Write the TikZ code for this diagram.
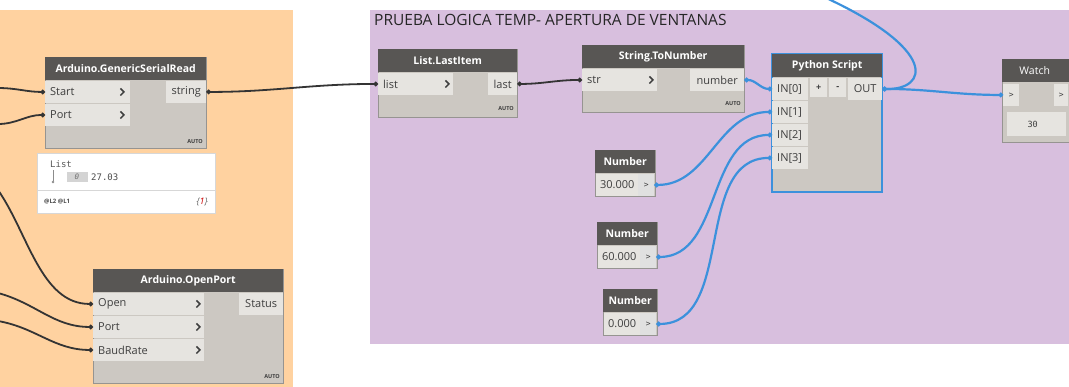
\documentclass[tikz,border=0pt]{standalone}
\usepackage{fontspec}
\setmainfont{Open Sans}
\newfontfamily\monofont{DejaVu Sans Mono}
\usetikzlibrary{arrows.meta}
\definecolor{orangegroup}{RGB}{255,210,160}
\definecolor{purplegroup}{RGB}{216,191,222}
\definecolor{headercolor}{RGB}{88,86,84}
\definecolor{bodycolor}{RGB}{204,200,194}
\definecolor{portcolor}{RGB}{230,228,224}
\definecolor{textcolor}{RGB}{62,62,62}
\definecolor{darkwire}{RGB}{52,52,52}
\definecolor{bluewire}{RGB}{60,145,220}
\definecolor{bordercolor}{RGB}{150,148,145}
\definecolor{previewborder}{RGB}{215,215,215}

\tikzset{
  nodebody/.style={draw=bordercolor,fill=bodycolor,line width=0.8pt},
  header/.style={anchor=north west,fill=headercolor,text=white,font=\bfseries\fontsize{10.5}{12}\selectfont,inner sep=0pt,minimum height=23pt},
  port/.style={anchor=north west,fill=portcolor,text=textcolor,font=\fontsize{11}{12}\selectfont,inner ysep=0pt,minimum height=21.5pt},
  inport/.style={port,inner xsep=5pt,text width=#1,align=left},
  outport/.style={port,inner xsep=3pt},
  autotag/.style={anchor=south east,text=textcolor,font=\bfseries\fontsize{5.5}{6}\selectfont,inner sep=0pt},
  chevron/.style={draw=textcolor,line width=1.5pt},
  grouptitle/.style={anchor=west,text=black!85,font=\fontsize{15.5}{17}\selectfont,inner sep=0pt},
  darkline/.style={draw=darkwire,line width=1.8pt},
  blueline/.style={draw=bluewire,line width=2.2pt},
  portdot/.style={{Circle[length=4.5pt]}-{Circle[length=4.5pt]}},
}

\begin{document}
\begin{tikzpicture}[x=1pt,y=-1pt]
  \clip (0,0) rectangle (1069,386);
  %groups
  \fill[orangegroup] (0,10) rectangle (293,390);
  \fill[purplegroup] (370,10) rectangle (1075,344);
  \node[grouptitle] (grp-title) at (374,20) {PRUEBA LOGICA TEMP- APERTURA DE VENTANAS};

  %Arduino.GenericSerialRead
  \filldraw[nodebody] (45,57) rectangle (206,148);
  \node[header,minimum width=161pt] (gsr-title) at (45,57) {Arduino.GenericSerialRead};
  \node[inport=75pt] (gsr-start) at (45,81) {Start};
  \node[inport=75pt] (gsr-port) at (45,104) {Port};
  \node[outport,minimum width=40pt] (gsr-string) at (166,81) {string};
  \node[autotag] (gsr-auto) at (203,144) {AUTO};
  \draw[chevron] (gsr-start.east) ++(-10,-3.5) -- ++(3.5,3.5) -- ++(-3.5,3.5);
  \draw[chevron] (gsr-port.east) ++(-10,-3.5) -- ++(3.5,3.5) -- ++(-3.5,3.5);

  %List preview
  \filldraw[draw=previewborder,fill=white] (37,153) rectangle (215,213);
  \draw[previewborder] (37,190) -- (215,190);
  \node[anchor=west,inner sep=0pt,text=black!65,font=\monofont\fontsize{9}{10}\selectfont] (lst-title) at (50,164) {List};
  \draw[black!45,line width=0.6pt] (53,170) -- (53,181);
  \fill[black!45] (53,182) circle (1.3);
  \node[fill=black!17,text=black!55,minimum width=21pt,minimum height=10pt,inner sep=0pt,font=\monofont\itshape\fontsize{7.5}{8}\selectfont] (lst-index) at (77,177) {0};
  \node[anchor=west,inner sep=0pt,text=black!70,font=\monofont\fontsize{9}{10}\selectfont] (lst-value) at (91,177) {27.03};
  \node[anchor=west,inner sep=0pt,text=black!70,font=\bfseries\fontsize{6}{7}\selectfont] (lst-levels) at (44,202) {@L2 @L1};
  \node[anchor=east,inner sep=0pt,text=black!60,font=\itshape\fontsize{9}{10}\selectfont] (lst-count) at (208,202) {\{\textcolor{red!80!black}{1}\}};

  %Arduino.OpenPort
  \filldraw[nodebody] (93,269) rectangle (283,383);
  \node[header,minimum width=190pt] (op-title) at (93,269) {Arduino.OpenPort};
  \node[inport=101pt] (op-open) at (93,293) {Open};
  \node[inport=101pt] (op-port) at (93,316) {Port};
  \node[inport=101pt] (op-baud) at (93,339) {BaudRate};
  \node[outport,minimum width=44pt] (op-status) at (239,293) {Status};
  \node[autotag] (op-auto) at (280,379) {AUTO};
  \draw[chevron] (op-open.east) ++(-8,-3.5) -- ++(3.5,3.5) -- ++(-3.5,3.5);
  \draw[chevron] (op-port.east) ++(-8,-3.5) -- ++(3.5,3.5) -- ++(-3.5,3.5);
  \draw[chevron] (op-baud.east) ++(-8,-3.5) -- ++(3.5,3.5) -- ++(-3.5,3.5);

  %List.LastItem
  \filldraw[nodebody] (378,49) rectangle (517,117);
  \node[header,minimum width=139pt] (li-title) at (378,49) {List.LastItem};
  \node[inport=65pt] (li-list) at (378,73) {list};
  \node[outport,minimum width=29pt] (li-last) at (488,73) {last};
  \node[autotag] (li-auto) at (514,111) {AUTO};
  \draw[chevron] (li-list.east) ++(-8,-3.5) -- ++(3.5,3.5) -- ++(-3.5,3.5);

  %String.ToNumber
  \filldraw[nodebody] (582,45) rectangle (744,112);
  \node[header,minimum width=162pt] (tn-title) at (582,45) {String.ToNumber};
  \node[inport=65pt] (tn-str) at (582,69) {str};
  \node[outport,minimum width=54pt] (tn-number) at (690,69) {number};
  \node[autotag] (tn-auto) at (741,106) {AUTO};
  \draw[chevron] (tn-str.east) ++(-8,-3.5) -- ++(3.5,3.5) -- ++(-3.5,3.5);

  %Python Script
  \filldraw[nodebody,draw=bluewire,line width=1.6pt] (772,54) rectangle (882,192);
  \node[header,minimum width=110pt] (py-title) at (772,54) {Python Script};
  \node[inport=26pt,inner xsep=5pt] (py-in0) at (772,78) {IN[0]};
  \node[inport=26pt,inner xsep=5pt] (py-in1) at (772,101) {IN[1]};
  \node[inport=26pt,inner xsep=5pt] (py-in2) at (772,124) {IN[2]};
  \node[inport=26pt,inner xsep=5pt] (py-in3) at (772,147) {IN[3]};
  \node[outport,minimum width=17pt,minimum height=19pt,font=\bfseries\fontsize{9}{10}\selectfont] (py-plus) at (810,78) {+};
  \node[outport,minimum width=17pt,minimum height=19pt,font=\bfseries\fontsize{9}{10}\selectfont] (py-minus) at (829,78) {-};
  \node[outport,minimum width=34pt] (py-out) at (848,78) {OUT};

  %Watch
  \filldraw[nodebody] (1002,59) rectangle (1075,142);
  \node[header,minimum width=73pt,font=\fontsize{10.5}{12}\selectfont] (w-title) at (1002,59) {\hspace*{-8pt}Watch};
  \node[outport,minimum width=16pt,font=\monofont\fontsize{8}{9}\selectfont] (w-in) at (1003,84) {>};
  \node[outport,minimum width=14pt,font=\monofont\fontsize{8}{9}\selectfont] (w-out) at (1054,84) {>};
  \node[outport,minimum width=59pt,minimum height=24pt,font=\monofont\fontsize{8.5}{9}\selectfont] (w-value) at (1007,112) {\hspace*{-8pt}30};

  %Numbers
  \filldraw[nodebody] (595,150) rectangle (655,196);
  \node[header,minimum width=60pt] (n1-title) at (595,150) {Number};
  \node[outport,minimum width=42pt] (n1-value) at (596,174) {30.000};
  \node[outport,minimum width=16pt,fill=black!12,font=\monofont\fontsize{8}{9}\selectfont] (n1-out) at (638,174) {>};
  \filldraw[nodebody] (597,222) rectangle (657,268);
  \node[header,minimum width=60pt] (n2-title) at (597,222) {Number};
  \node[outport,minimum width=42pt] (n2-value) at (598,246) {60.000};
  \node[outport,minimum width=16pt,fill=black!12,font=\monofont\fontsize{8}{9}\selectfont] (n2-out) at (640,246) {>};
  \filldraw[nodebody] (603,289) rectangle (657,335);
  \node[header,minimum width=54pt] (n3-title) at (603,289) {Number};
  \node[outport,minimum width=36pt] (n3-value) at (604,313) {0.000};
  \node[outport,minimum width=16pt,fill=black!12,font=\monofont\fontsize{8}{9}\selectfont] (n3-out) at (640,313) {>};

  %wires from outside
  \coordinate (src-start) at (-2,88);
  \coordinate (src-port) at (-2,124);
  \coordinate (src-open) at (-2,190);
  \coordinate (src-port2) at (-2,293);
  \coordinate (src-baud) at (-2,321);
  \coordinate (loop-end) at (822,-4);
  \draw[darkline,-{Circle[length=4.5pt]}] (src-start) to[out=0,in=180] (gsr-start.west);
  \draw[darkline,-{Circle[length=4.5pt]}] (src-port) to[out=0,in=180] (gsr-port.west);
  \draw[darkline,-{Circle[length=4.5pt]}] (src-open) to[out=-55,in=180,looseness=0.9] (op-open.west);
  \draw[darkline,-{Circle[length=4.5pt]}] (src-port2) to[out=-15,in=180] (op-port.west);
  \draw[darkline,-{Circle[length=4.5pt]}] (src-baud) to[out=-10,in=180] (op-baud.west);

  %wires
  \draw[darkline,portdot] (gsr-string.east) to[out=0,in=180] (li-list.west);
  \draw[darkline,portdot] (li-last.east) to[out=0,in=180] (tn-str.west);
  \draw[blueline,portdot] (tn-number.east) to[out=0,in=180] (py-in0.west);
  \draw[blueline,portdot] (n1-out.east) to[out=0,in=180] (py-in1.west);
  \draw[blueline,portdot] (n2-out.east) to[out=0,in=180] (py-in2.west);
  \draw[blueline,portdot] (n3-out.east) to[out=0,in=180] (py-in3.west);
  \draw[blueline,portdot] (py-out.east) to[out=0,in=180] (w-in.west);
  \draw[blueline,{Circle[length=4.5pt]}-] (py-out.east) .. controls (928,90) and (940,50) .. (loop-end);
\end{tikzpicture}
\end{document}
